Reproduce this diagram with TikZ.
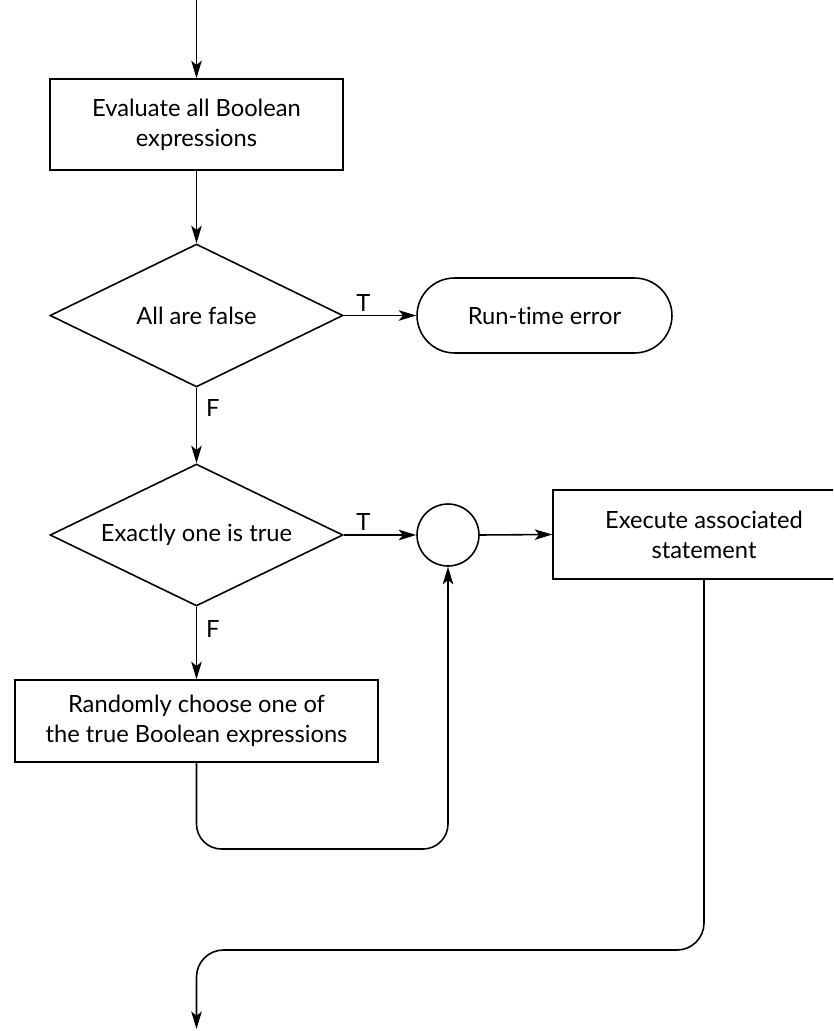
\documentclass[tikz,border=0pt]{standalone}
\usepackage{fontspec}
\setmainfont{Lato}[Ligatures=NoCommon]
\usetikzlibrary{arrows.meta,shapes.geometric}
\tikzset{
	flow/.style={line width=0.9pt},
	arr/.style={flow,-{Stealth[length=10pt,width=6pt,inset=2.5pt]}},
	procbox/.style={flow,draw,rectangle,align=center,inner sep=0pt},
	decision/.style={flow,draw,diamond,aspect=2,inner sep=0pt,align=center},
	terminal/.style={flow,draw,rectangle,rounded corners=0.75cm,inner sep=0pt},
	tflabel/.style={inner sep=2pt}
}
\begin{document}
\begin{tikzpicture}[x=0.02cm,y=-0.02cm,font=\fontsize{13.5}{17}\selectfont]
	\useasboundingbox (0,0) rectangle (833,1031);
	\clip (0,0) rectangle (833,1031);
	\coordinate (start) at (196.5,0);
	\coordinate (finish) at (196.5,1029);
	\coordinate (loopy) at (0,849);
	\coordinate (exity) at (0,950);
	\node [procbox,minimum width=5.86cm,minimum height=1.82cm] (eval) at (196.5,124.5) {Evaluate all Boolean\\expressions};
	\node [decision,minimum width=5.86cm,minimum height=2.86cm] (allfalse) at (196.5,315.5) {All are false};
	\node [terminal,minimum width=5.1cm,minimum height=1.5cm] (rterror) at (544.5,315.5) {Run-time error};
	\node [decision,minimum width=5.86cm,minimum height=2.84cm] (onetrue) at (196.5,535) {Exactly one is true};
	\node [flow,draw,circle,minimum size=1.24cm,inner sep=0pt] (join) at (448,535) {};
	\node [procbox,minimum width=6.04cm,minimum height=1.78cm] (exec) at (704,534.5) {Execute associated\\statement};
	\node [procbox,minimum width=7.26cm,minimum height=1.64cm] (choose) at (196.5,721) {Randomly choose one of\\the true Boolean expressions};
	\draw [arr] (start) -- (eval);
	\draw [arr] (eval) -- (allfalse);
	\draw [arr] (allfalse.east) -- node [tflabel,above,pos=0.27] (t1) {T} (rterror.west);
	\draw [arr] (allfalse.south) -- node [tflabel,right,pos=0.27,xshift=3pt] (f1) {F} (onetrue.north);
	\draw [arr] (onetrue.east) -- node [tflabel,above,pos=0.27] (t2) {T} (join.west);
	\draw [arr] (onetrue.south) -- node [tflabel,right,pos=0.3,xshift=3pt] (f2) {F} (choose.north);
	\draw [arr] (join.east) -- (exec.west);
	\draw [arr,rounded corners=0.5cm] (choose.south) -- (choose.south |- loopy) -- (join.south |- loopy) -- (join.south);
	\draw [arr,rounded corners=0.54cm] (exec.south) -- (exec.south |- exity) -- (finish |- exity) -- (finish);
\end{tikzpicture}
\end{document}
